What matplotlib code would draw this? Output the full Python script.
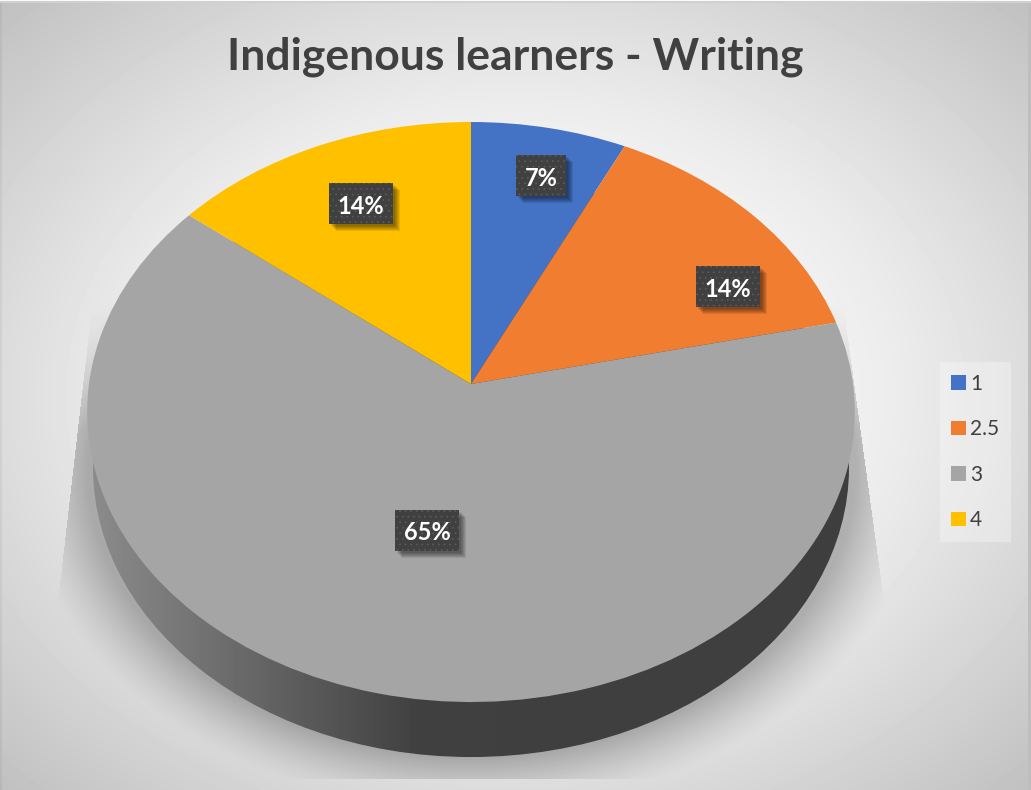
import numpy as np
import matplotlib
matplotlib.use("Agg")
import matplotlib.pyplot as plt
import matplotlib.patches as mpatches
from matplotlib.transforms import Transform

# =====================================================
# DATA
# =====================================================

categories = ["1", "2.5", "3", "4"]
values = [7.2, 14.3, 64.2, 14.3]
percent_labels = ["7%", "14%", "65%", "14%"]
colors = ["#4472C4", "#F07D30", "#A5A5A5", "#FFC000"]
title = "Indigenous learners - Writing"

# label box centres, image pixels
label_x = [541, 728, 427, 361]
label_y = [175, 286.5, 530, 203.5]

W, H = 1031, 790

# =====================================================
# PERSPECTIVE DISC -> PIXELS
# =====================================================

CX, CY = 471, 384
BX, BY, K = 382, 287.3, 0.0966


class DiscTransform(Transform):
    input_dims = 2
    output_dims = 2
    is_separable = False
    has_inverse = False

    def __init__(self, shift=0.0, xscale=1.0):
        super().__init__()
        self.shift = shift
        self.xscale = xscale

    def transform_non_affine(self, xy):
        xy = np.asarray(xy, dtype=float)
        w = 1 + K * xy[:, 1]
        x = CX + self.xscale * BX * xy[:, 0] / w
        y = CY - BY * xy[:, 1] / w + self.shift
        return np.column_stack([x, y])


# =====================================================
# BACKGROUND
# =====================================================

yy, xx = np.mgrid[0:H, 0:W]
t = np.sqrt(((xx - 515) / 515) ** 2 + ((yy - 395) / 395) ** 2) / np.sqrt(2)
ramp = 192 + (1 - t) * 95
bg = -5 * np.logaddexp(-243 / 5, -ramp / 5)

# soft shadow below the disc, clipped to a trapezoid
d = np.sqrt(((xx - 471) / 384) ** 2 + ((yy - 467) / 290) ** 2)
dist = np.clip((d - 1) * 340, 0, None)
shade = 0.26 * np.clip(1 - dist / 62, 0, 1) ** 1.3
inside = (
    (xx >= 90 - (yy - 320) * 30 / 260)
    & (xx <= 845 + (yy - 320) * 35 / 255)
    & (yy <= 778)
    & (yy >= 300)
)
shade = shade * inside * np.clip((yy - 300) / 130, 0, 1)
bg = bg * (1 - shade)

# edges of the chart area
bg[:, :2] = bg[:, :2] * 0.95
bg[:, 1028:] = 190
bg[0:1, :] = 250
bg[1:3, :] = 208

fig = plt.figure(figsize=(W / 100, H / 100), dpi=100)
ax = fig.add_axes([0, 0, 1, 1])

# =====================================================
# PIE
# =====================================================

wedges, _ = ax.pie(
    values,
    colors=colors,
    startangle=90,
    counterclock=False,
    wedgeprops={"linewidth": 0},
)

ax.set_aspect("auto")
ax.set_xlim(0, W)
ax.set_ylim(H, 0)
ax.axis("off")

ax.imshow(bg, cmap="gray", vmin=0, vmax=255, extent=(0, W, H, 0),
          aspect="auto", zorder=0)

top_tr = DiscTransform() + ax.transData
for w in wedges:
    w.set_transform(top_tr)
    w.set_zorder(3)

# side wall: shifted disc filled with a horizontal gradient
wall_tr = DiscTransform(shift=55, xscale=0.985) + ax.transData
wall_clip = mpatches.Circle((0, 0), 1, transform=wall_tr, fc="none", ec="none")
ax.add_patch(wall_clip)

grad = np.interp(np.arange(W), [88, 420, W], [140, 64, 62])[None, :]
wall = ax.imshow(grad, cmap="gray", vmin=0, vmax=255, extent=(0, W, H, 0),
                 aspect="auto", zorder=2)
wall.set_clip_path(wall_clip)

ax.set_xlim(0, W)
ax.set_ylim(H, 0)

# =====================================================
# LABELS
# =====================================================

plt.rcParams["hatch.linewidth"] = 0.5
renderer = fig.canvas.get_renderer()

for s, lx, ly in zip(percent_labels, label_x, label_y):
    txt = ax.text(
        lx, ly + 3, s,
        family="Lato", weight="bold", fontsize=17, color="white",
        ha="center", va="center", zorder=6,
    )
    box_w = txt.get_window_extent(renderer).width + 18
    box_h = 41
    x0, y0 = lx - box_w / 2, ly - box_h / 2

    # blurred drop shadow
    for o in (7, 6, 5, 4, 3, 2):
        ax.add_patch(mpatches.Rectangle(
            (x0 + o, y0 + o), box_w, box_h,
            fc="black", ec="none", alpha=0.09, zorder=4,
        ))
    ax.add_patch(mpatches.Rectangle(
        (x0, y0), box_w, box_h,
        fc="#404040", ec="#5C5C5C", lw=0, hatch="...", zorder=5,
    ))

# =====================================================
# TITLE + LEGEND
# =====================================================

ax.text(515.5, 56.5, title, family="Lato", weight="bold", fontsize=32,
        color="#404040", ha="center", va="center", zorder=6)

handles = [mpatches.Patch(color=c, lw=0) for c in colors]
leg = ax.legend(
    handles, categories,
    loc="center left",
    bbox_to_anchor=(940, 452),
    bbox_transform=ax.transData,
    borderaxespad=0,
    frameon=True,
    fancybox=False,
    facecolor="white",
    edgecolor="none",
    framealpha=0.3,
    handlelength=0.68,
    handleheight=0.68,
    handletextpad=0.22,
    labelspacing=1.22,
    borderpad=0.55,
    prop={"family": "Lato", "size": 15},
    labelcolor="#404040",
)
leg.set_zorder(6)

fig.savefig("out.png", dpi=100)
